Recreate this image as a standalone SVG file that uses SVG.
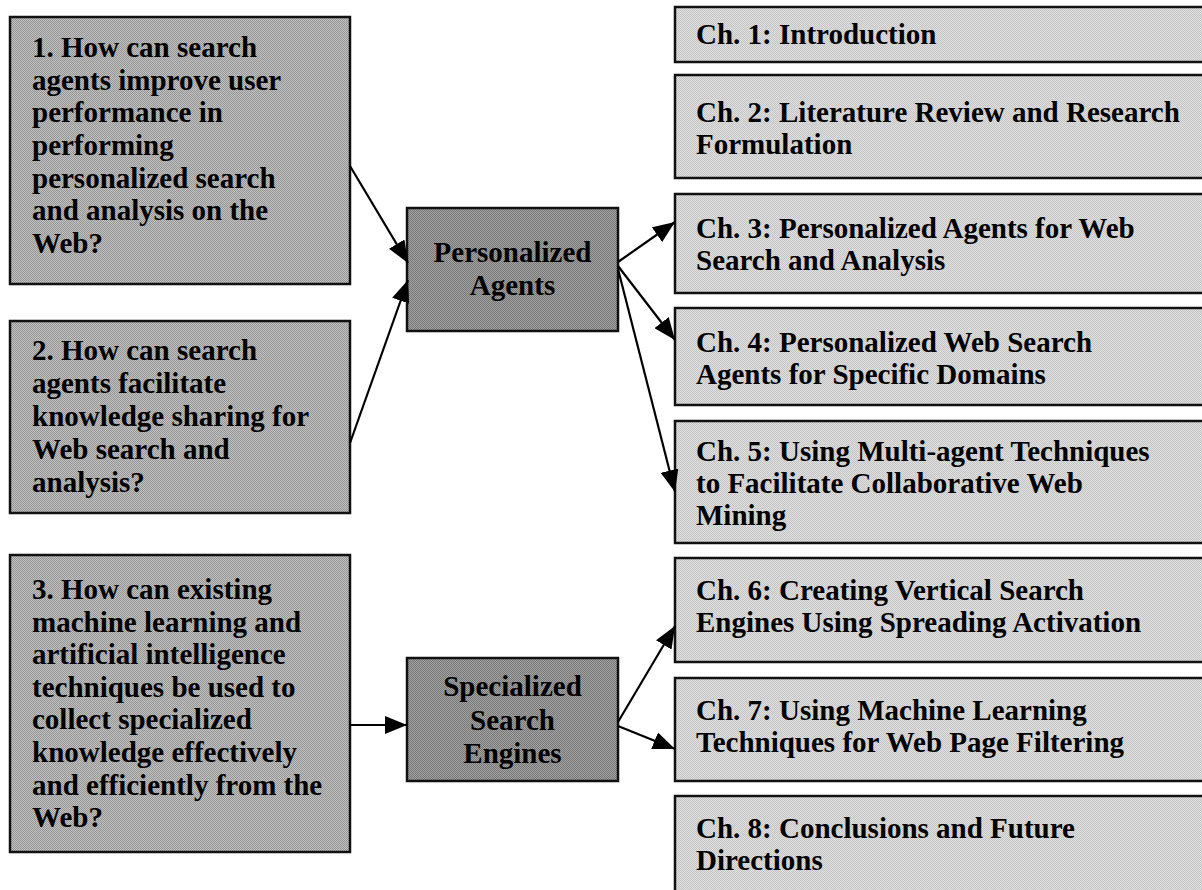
<svg xmlns="http://www.w3.org/2000/svg" width="1202" height="890" viewBox="0 0 1202 890">
  <style>
    .t { font-family: "Liberation Serif", "Times New Roman", serif; font-weight: bold; font-size: 29px; fill: #000; }
    .c { text-anchor: middle; }
    .box { stroke: #111; stroke-width: 2.5; }
    .q { fill: url(#ditherMid); }
    .hub { fill: url(#ditherDark); }
    .ch { fill: url(#ditherLight); }
    .conn { stroke: #000; stroke-width: 2.2; fill: none; marker-end: url(#head); }
  </style>
  <defs>
    <pattern id="ditherLight" width="2" height="2" patternUnits="userSpaceOnUse">
      <rect width="2" height="2" fill="#e0e0e0"/>
      <rect width="1" height="1" fill="#c4c4c4"/>
      <rect x="1" y="1" width="1" height="1" fill="#c4c4c4"/>
    </pattern>
    <pattern id="ditherMid" width="2" height="2" patternUnits="userSpaceOnUse">
      <rect width="2" height="2" fill="#c2c2c2"/>
      <rect width="1" height="1" fill="#949494"/>
      <rect x="1" y="1" width="1" height="1" fill="#949494"/>
    </pattern>
    <pattern id="ditherDark" width="2" height="2" patternUnits="userSpaceOnUse">
      <rect width="2" height="2" fill="#a4a4a4"/>
      <rect width="1" height="1" fill="#767676"/>
      <rect x="1" y="1" width="1" height="1" fill="#767676"/>
    </pattern>
    <marker id="head" viewBox="0 0 22 18" refX="22" refY="9" markerWidth="22" markerHeight="18" markerUnits="userSpaceOnUse" orient="auto">
      <path d="M0,0 L22,9 L0,18 z" fill="#000"/>
    </marker>
  </defs>

  <rect width="1202" height="890" fill="#fff"/>

  <!-- research questions -->
  <g id="q1">
    <rect class="box q" x="10" y="17" width="340" height="267"/>
    <text class="t" x="32" y="57">1. How can search</text>
    <text class="t" x="32" y="89.7">agents improve user</text>
    <text class="t" x="32" y="122.3">performance in</text>
    <text class="t" x="32" y="155">performing</text>
    <text class="t" x="32" y="187.7">personalized search</text>
    <text class="t" x="32" y="220.3">and analysis on the</text>
    <text class="t" x="32" y="253">Web?</text>
  </g>
  <g id="q2">
    <rect class="box q" x="10" y="321" width="340" height="192"/>
    <text class="t" x="32" y="360">2. How can search</text>
    <text class="t" x="32" y="393">agents facilitate</text>
    <text class="t" x="32" y="426">knowledge sharing for</text>
    <text class="t" x="32" y="459">Web search and</text>
    <text class="t" x="32" y="492">analysis?</text>
  </g>
  <g id="q3">
    <rect class="box q" x="10" y="555" width="340" height="297"/>
    <text class="t" x="32" y="599">3. How can existing</text>
    <text class="t" x="32" y="631.6">machine learning and</text>
    <text class="t" x="32" y="664.2">artificial intelligence</text>
    <text class="t" x="32" y="696.8">techniques be used to</text>
    <text class="t" x="32" y="729.4">collect specialized</text>
    <text class="t" x="32" y="762">knowledge effectively</text>
    <text class="t" x="32" y="794.6">and efficiently from the</text>
    <text class="t" x="32" y="827.2">Web?</text>
  </g>

  <!-- topic hubs -->
  <g id="hub-agents">
    <rect class="box hub" x="407" y="208" width="211" height="123"/>
    <text class="t c" x="512.5" y="262">Personalized</text>
    <text class="t c" x="512.5" y="295">Agents</text>
  </g>
  <g id="hub-engines">
    <rect class="box hub" x="407" y="658" width="211" height="123"/>
    <text class="t c" x="512.5" y="696">Specialized</text>
    <text class="t c" x="512.5" y="730">Search</text>
    <text class="t c" x="512.5" y="763">Engines</text>
  </g>

  <!-- chapters -->
  <g id="ch1">
    <rect class="box ch" x="675" y="7" width="540" height="55"/>
    <text class="t" x="696" y="44">Ch. 1: Introduction</text>
  </g>
  <g id="ch2">
    <rect class="box ch" x="675" y="75" width="540" height="103"/>
    <text class="t" x="696" y="122">Ch. 2: Literature Review and Research</text>
    <text class="t" x="696" y="154">Formulation</text>
  </g>
  <g id="ch3">
    <rect class="box ch" x="675" y="194" width="540" height="99"/>
    <text class="t" x="696" y="238">Ch. 3: Personalized Agents for Web</text>
    <text class="t" x="696" y="270">Search and Analysis</text>
  </g>
  <g id="ch4">
    <rect class="box ch" x="675" y="308" width="540" height="97"/>
    <text class="t" x="696" y="352">Ch. 4: Personalized Web Search</text>
    <text class="t" x="696" y="384">Agents for Specific Domains</text>
  </g>
  <g id="ch5">
    <rect class="box ch" x="675" y="421" width="540" height="122"/>
    <text class="t" x="696" y="461">Ch. 5: Using Multi-agent Techniques</text>
    <text class="t" x="696" y="493">to Facilitate Collaborative Web</text>
    <text class="t" x="696" y="525">Mining</text>
  </g>
  <g id="ch6">
    <rect class="box ch" x="675" y="558" width="540" height="104"/>
    <text class="t" x="696" y="600">Ch. 6: Creating Vertical Search</text>
    <text class="t" x="696" y="632">Engines Using Spreading Activation</text>
  </g>
  <g id="ch7">
    <rect class="box ch" x="675" y="678" width="540" height="103"/>
    <text class="t" x="696" y="720">Ch. 7: Using Machine Learning</text>
    <text class="t" x="696" y="752">Techniques for Web Page Filtering</text>
  </g>
  <g id="ch8">
    <rect class="box ch" x="675" y="796" width="540" height="110"/>
    <text class="t" x="696" y="838">Ch. 8: Conclusions and Future</text>
    <text class="t" x="696" y="870">Directions</text>
  </g>

  <!-- connectors -->
  <g id="connectors">
    <line class="conn" x1="350" y1="166" x2="408" y2="263"/>
    <line class="conn" x1="350" y1="443" x2="408" y2="280"/>
    <line class="conn" x1="350" y1="725" x2="407" y2="725"/>
    <line class="conn" x1="618" y1="262" x2="675" y2="222"/>
    <line class="conn" x1="618" y1="266" x2="675" y2="340"/>
    <line class="conn" x1="618" y1="269" x2="675" y2="492"/>
    <line class="conn" x1="618" y1="722" x2="675" y2="626"/>
    <line class="conn" x1="618" y1="726" x2="675" y2="749"/>
  </g>
</svg>
